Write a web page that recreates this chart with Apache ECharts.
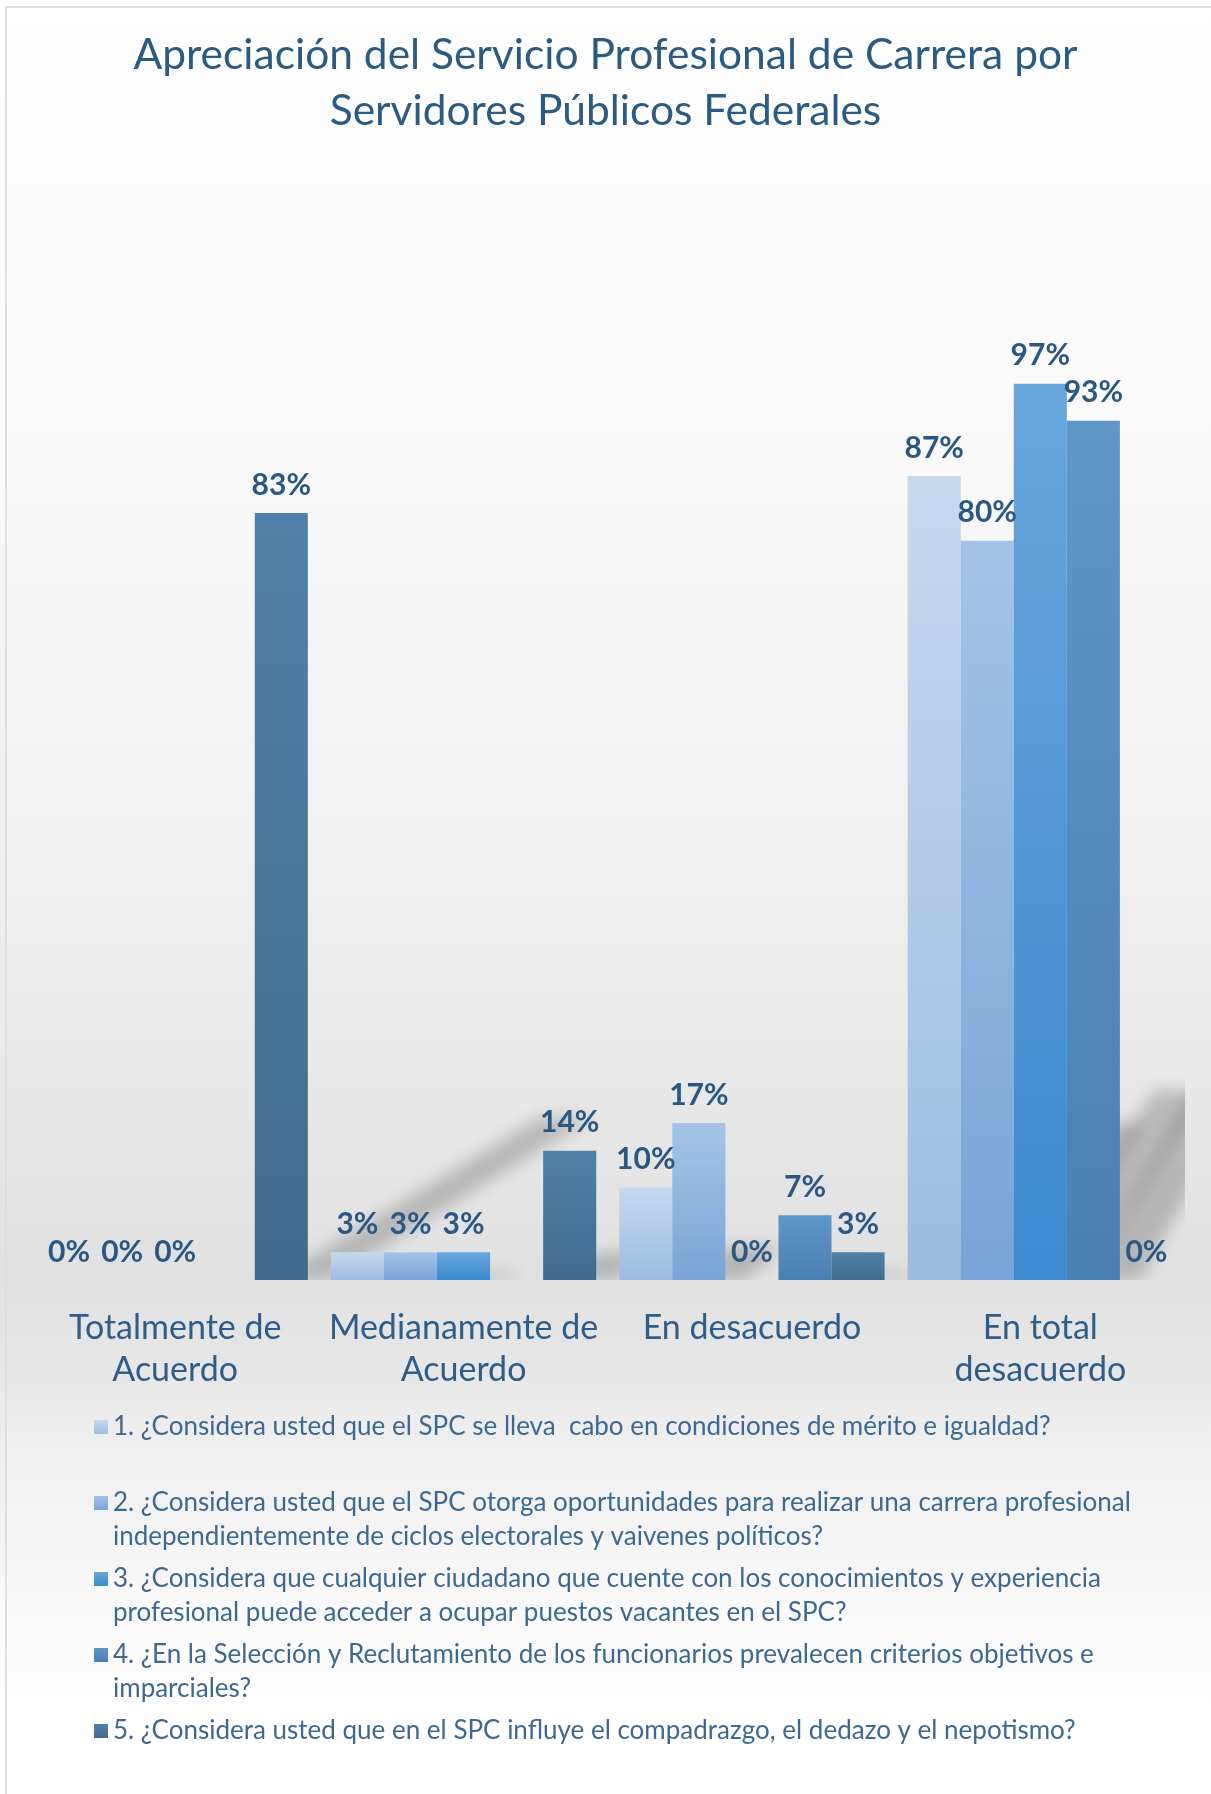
<!DOCTYPE html>
<html>
<head>
<meta charset="utf-8">
<script src="https://cdn.jsdelivr.net/npm/echarts@6/dist/echarts.min.js"></script>
<style>
html,body{margin:0;padding:0;background:#fff;}
#chart{width:1211px;height:1794px;}
</style>
</head>
<body>
<div id="chart"></div>
<script>
// ---- data ----
var titleText = 'Apreciación del Servicio Profesional de Carrera por\nServidores Públicos Federales';
var categories = ['Totalmente de\nAcuerdo', 'Medianamente de\nAcuerdo', 'En desacuerdo', 'En total\ndesacuerdo'];
var seriesNames = [
  '1. ¿Considera usted que el SPC se lleva  cabo en condiciones de mérito e igualdad?\n\u00a0',
  '2. ¿Considera usted que el SPC otorga oportunidades para realizar una carrera profesional\nindependientemente de ciclos electorales y vaivenes políticos?',
  '3. ¿Considera que cualquier ciudadano que cuente con los conocimientos y experiencia\nprofesional puede acceder a ocupar puestos vacantes en el SPC?',
  '4. ¿En la Selección y Reclutamiento de los funcionarios prevalecen criterios objetivos e\nimparciales?',
  '5. ¿Considera usted que en el SPC influye el compadrazgo, el dedazo y el nepotismo?\n\u00a0'
];
var q1 = [0, 3, 10, 87];
var q2 = [0, 3, 17, 80];
var q3 = [0, 3, 0, 97];
var q4 = [null, null, 7, 93];
var q5 = [83, 14, 3, 0];
var seriesValues = [q1, q2, q3, q4, q5];

// ---- styles ----
var barColors = [
  ['#c6d8ee', '#9ebbe0'],
  ['#a5c3e7', '#79a4d7'],
  ['#68a6dd', '#3b8ad0'],
  ['#5f97c9', '#4a7fb1'],
  ['#5081aa', '#406b90']
];
function grad(c) {
  return new echarts.graphic.LinearGradient(0, 0, 0, 1, [
    {offset: 0, color: c[0]}, {offset: 1, color: c[1]}
  ]);
}
var FONT = 'Lato, "Noto Sans", sans-serif';
var nSeries = seriesValues.length;
var catGap = 0.08;

var series = [];
seriesValues.forEach(function (vals, i) {
  series.push({
    name: seriesNames[i],
    type: 'bar',
    data: vals,
    barGap: '0%',
    barCategoryGap: (catGap * 100) + '%',
    z: 3,
    itemStyle: {color: grad(barColors[i])},
    label: {
      show: true,
      position: 'top',
      distance: 13,
      formatter: '{c}%',
      color: '#2b5784',
      fontFamily: FONT,
      fontWeight: 'bold',
      fontSize: 30
    }
  });
});

// perspective shadows cast by bars (decorative), positioned through the axis scales
var shadowData = [];
seriesValues.forEach(function (vals, s) {
  vals.forEach(function (v, c) {
    if (v !== null && v > 0) shadowData.push([c, v, s]);
  });
});
var OFF = 4000;
series.unshift({
  type: 'custom',
  z: 1,
  silent: true,
  clip: true,
  legendHoverLink: false,
  data: shadowData,
  encode: {x: 0, y: 1},
  renderItem: function (params, api) {
    var c = api.value(0), v = api.value(1), s = api.value(2);
    var band = api.size([1, 0])[0];
    var bw = band * (1 - catGap) / nSeries;
    var base = api.coord([c, 0]);
    var top = api.coord([c, v]);
    var y0 = base[1];
    var h = y0 - top[1];
    var x1 = base[0] - band * (1 - catGap) / 2 + s * bw + 20;
    var x2 = x1 + bw;
    var xc = (x1 + x2) / 2 - 20;
    var k = 0.345 - 0.000278 * (xc - 282);
    if (k < 0.05) k = 0.05;
    var dx = h * k, dy = h * 0.212;
    return {
      type: 'polygon',
      shape: {points: [[x1 + OFF, y0], [x2 + OFF, y0], [x2 + dx + OFF, y0 - dy], [x1 + dx + OFF, y0 - dy]]},
      style: {fill: '#000', shadowBlur: 16, shadowColor: 'rgba(0,0,0,0.2)', shadowOffsetX: -OFF, shadowOffsetY: 0}
    };
  }
});

var chart = echarts.init(document.getElementById('chart'), null, {renderer: 'canvas'});
chart.setOption({
  animation: false,
  backgroundColor: new echarts.graphic.LinearGradient(0, 0, 0, 1, [
    {offset: 0, color: '#ffffff'},
    {offset: 0.2, color: '#fbfbfb'},
    {offset: 0.5, color: '#efefef'},
    {offset: 0.71, color: '#e1e1e1'},
    {offset: 0.76, color: '#e6e6e6'},
    {offset: 0.8, color: '#eeeeee'},
    {offset: 0.95, color: '#ffffff'},
    {offset: 1, color: '#ffffff'}
  ]),
  title: {
    text: titleText,
    left: 'center',
    top: 27,
    padding: 0,
    textStyle: {
      fontFamily: FONT,
      fontWeight: 'normal',
      fontSize: 42.5,
      lineHeight: 56,
      color: '#2b5b84'
    }
  },
  graphic: [{
    type: 'rect',
    shape: {x: 6, y: 7, width: 1260, height: 1840},
    style: {fill: 'none', stroke: '#dedede', lineWidth: 2},
    silent: true,
    z: 100
  }],
  legend: {
    orient: 'vertical',
    left: 94,
    top: 1376,
    padding: 0,
    itemGap: -26,
    itemWidth: 14,
    itemHeight: 14,
    icon: 'rect',
    data: seriesNames,
    formatter: function (name) { return '\u00a0\n' + name; },
    textStyle: {
      fontFamily: FONT,
      fontSize: 26,
      lineHeight: 34,
      color: '#3d6892'
    }
  },
  grid: {left: 31, right: 26.5, top: 356, bottom: 514},
  xAxis: {
    type: 'category',
    data: categories,
    axisLine: {show: false},
    axisTick: {show: false},
    axisLabel: {
      interval: 0,
      margin: 27,
      fontFamily: FONT,
      fontSize: 34,
      lineHeight: 42,
      color: '#2e5d8a'
    }
  },
  yAxis: {type: 'value', min: 0, max: 100, show: false, splitLine: {show: false}},
  series: series
});
</script>
</body>
</html>
